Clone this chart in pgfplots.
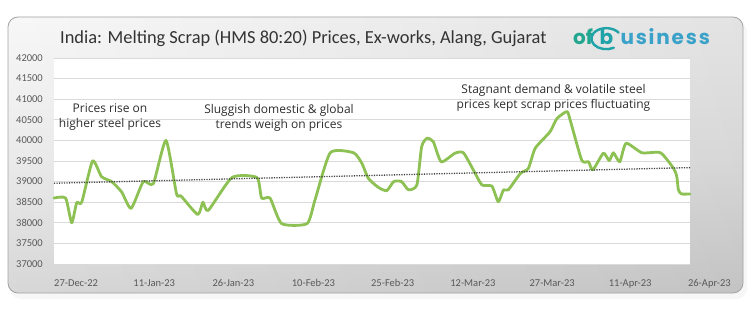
\documentclass[border=0pt]{standalone}
\usepackage{pgfplots}
\usepackage{pgfplotstable}
\pgfplotsset{compat=1.18}
\usepackage{fontspec}
\setmainfont{Carlito}
\newfontfamily\annfont{Open Sans}
\newfontfamily\logofont{Poppins}

\definecolor{linegreen}{HTML}{8DC153}
\definecolor{gridgray}{HTML}{DADADA}
\definecolor{ticktext}{HTML}{595959}
\definecolor{titletext}{HTML}{333333}
\definecolor{anntext}{HTML}{2E2E2E}
\definecolor{trend}{HTML}{404040}
\definecolor{logoA}{HTML}{22A68F}
\definecolor{logoB}{HTML}{1FA3A8}
\definecolor{logoC}{HTML}{3AA2C9}
\definecolor{cardborder}{HTML}{A3A3A3}
\definecolor{cardtop}{HTML}{F7F7F7}
\definecolor{cardmid}{HTML}{EAEAEA}
\definecolor{cardbot}{HTML}{D4D4D4}

% Daily HMS 80:20 price, day 0 = 27-Dec-22 (INR/t)
\pgfplotstableread{
day price
0 38600
2.2 38600
3.35 38000
4.3 38490
5.25 38500
7.3 39500
9.0 39120
10.9 39000
12.8 38750
14.6 38350
16.9 39000
18.8 38950
21.2 40000
23.2 38700
24.05 38650
27.2 38200
28.2 38500
29.2 38300
33.7 39100
38.4 39100
39.3 38600
40.9 38600
43.1 37980
47.9 37980
49.4 38550
52.3 39700
56.7 39700
58.3 39440
59.5 39080
61.4 38860
63 38780
64.3 39000
65.8 39000
67.1 38800
68.7 38920
69.6 39850
70.6 40050
71.8 39970
73.3 39480
75.9 39690
77.5 39700
79.4 39280
81 38920
82.9 38890
84.1 38510
85.1 38800
86 38800
88.3 39200
89.8 39320
91.1 39810
93.9 40210
95.2 40530
97.1 40700
97.7 40500
99.9 39520
101.2 39480
102 39280
104 39690
105.1 39510
105.9 39700
107.1 39480
108.3 39930
111.3 39700
114.8 39700
117.3 39320
117.9 39120
118.2 38800
118.8 38700
120.4 38700
}\scrap

% Linear trend
\pgfplotstableread{
day price
0 38960
120.4 39340
}\trendline

\begin{document}
\begin{tikzpicture}[x=1pt,y=1pt]
% canvas
\fill[white] (0,0) rectangle (752,308);
% soft shadow under the card
\fill[gray!10, rounded corners=11pt] (9,11) rectangle (745,289);
\fill[gray!6, rounded corners=11pt] (10,9) rectangle (747,287);
% card
\shade[rounded corners=10pt, top color=cardtop, bottom color=cardbot, middle color=cardmid]
  (8,15) rectangle (743,291);
\shade[rounded corners=10pt, left color=white, right color=black, fill opacity=0.08]
  (8,15) rectangle (743,291);
\draw[cardborder, line width=0.8pt, rounded corners=10pt] (8,15) rectangle (743,291);

\begin{axis}[
  at={(54pt,44pt)}, anchor=south west,
  scale only axis, width=636pt, height=206pt,
  xmin=0, xmax=120.4, ymin=37000, ymax=42000,
  axis background/.style={fill=white},
  axis line style={draw=none},
  major tick length=0pt,
  ymajorgrids, grid style={gridgray, line width=0.9pt},
  ytick={37000,37500,...,42000},
  scaled y ticks=false,
  xtick={0,15,...,120},
  xticklabels={27-Dec-22,11-Jan-23,26-Jan-23,10-Feb-23,25-Feb-23,12-Mar-23,27-Mar-23,11-Apr-23,26-Apr-23},
  /pgf/number format/assume math mode=true,
  /pgf/number format/1000 sep={},
  ticklabel style={font=\fontsize{10.5}{12}\selectfont, text=ticktext},
  xticklabel style={anchor=north west, inner sep=0pt, yshift=-15pt},
  yticklabel style={anchor=east, inner sep=0pt, xshift=-11pt},
  clip=false,
]
\addplot[linegreen, line width=2.8pt, smooth, tension=0.35, line join=round, line cap=round]
  table[x=day, y=price]{\scrap};
\addplot[trend, line width=1.3pt, dash pattern=on 1.2pt off 1.3pt]
  table[x=day, y=price]{\trendline};
\end{axis}

% title and logo
\node[anchor=west, inner sep=0pt, text=titletext, font=\fontsize{18.4}{22}\selectfont]
  at (60,270) {India: Melting Scrap (HMS 80:20) Prices, Ex-works, Alang, Gujarat};
\node[anchor=base west, inner sep=0pt, text=logoA, font=\logofont\bfseries\fontsize{20}{20}\selectfont]
  (of) at (573,263) {of};
\node[anchor=base west, inner sep=0pt, text=logoB, font=\logofont\bfseries\fontsize{20}{20}\selectfont]
  (b) at ([xshift=6pt]of.base east) {b};
\draw[logoB, line width=2.4pt, line cap=round]
  ([yshift=-1pt]b.center) ++(35:15pt and 10.5pt) arc[start angle=35, end angle=300, x radius=15pt, y radius=10.5pt];
\node[anchor=base west, inner sep=0pt, text=logoC, font=\logofont\bfseries\fontsize{20}{20}\selectfont\addfontfeature{LetterSpace=9}]
  at ([xshift=7pt]b.base east) {usiness};

% annotations
\node[align=center, text=anntext, font=\annfont\fontsize{12}{15}\selectfont]
  at (110,190.5) {Prices rise on\\higher steel prices};
\node[align=center, text=anntext, font=\annfont\fontsize{12}{15}\selectfont]
  at (279,190.5) {Sluggish domestic \& global\\trends weigh on prices};
\node[align=center, text=anntext, font=\annfont\fontsize{12}{15}\selectfont]
  at (553.5,210.5) {Stagnant demand \& volatile steel\\prices kept scrap prices fluctuating};
\end{tikzpicture}
\end{document}
